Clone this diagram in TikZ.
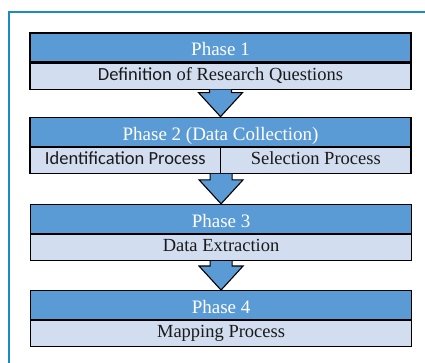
\documentclass[tikz,border=0pt]{standalone}
\usepackage{fontspec}
\setmainfont{Liberation Serif}
\newfontfamily\calibri{Carlito}
\usepackage{tikz}
\usetikzlibrary{positioning,calc}
\definecolor{phaseblue}{RGB}{91,155,213}
\definecolor{taskblue}{RGB}{210,222,239}
\definecolor{frameblue}{RGB}{28,137,200}
\definecolor{inkgray}{RGB}{26,26,26}

\begin{document}
\begin{tikzpicture}[x=1pt, y=1pt, node distance=27pt, phase/.style = {rectangle, draw=black, line width=1.1pt, fill=phaseblue, text=white, minimum width=381pt, minimum height=29pt, inner sep=0pt, text height=17pt, text depth=0pt, font=\fontsize{19}{21}\selectfont}, task/.style = {rectangle, draw=black, line width=1.1pt, fill=taskblue, text=inkgray, minimum width=381pt, minimum height=26pt, inner sep=0pt, text height=10pt, text depth=2pt, font=\fontsize{18.5}{20}\selectfont}, flow/.style = {draw=black, line width=1.1pt, fill=phaseblue, line join=miter}, frameline/.style = {draw=frameblue, line width=2.5pt}]

\useasboundingbox (0,0) rectangle (425,363);
\draw[frameline] (9,0) -- (9,351) -- (425,351);

\node[phase] (p1) at (220.5,315.5) {Phase 1};
\node[task, below=0pt of p1] (d1) {{\calibri Definition} of Research Questions};

\node[phase, below=of d1] (p2) {Phase 2 (Data Collection)};
\node[task, anchor=north west, minimum width=190.5pt] (d2a) at (p2.south west) {\calibri Identification Process};
\node[task, anchor=north east, minimum width=190.5pt] (d2b) at (p2.south east) {Selection Process};

\node[phase, below=30pt of d2a.south east, anchor=north] (p3) {Phase 3};
\node[task, below=0pt of p3] (d3) {Data Extraction};

\node[phase, below=29pt of d3] (p4) {Phase 4};
\node[task, below=0pt of p4] (d4) {Mapping Process};

\foreach \a/\b in {d1.south/p2, d2a.south east/p3, d3.south/p4}
 \draw[flow] ($(\a)+(-11,0)$) -- ($(\b.north)+(-11,24)$) -- ($(\b.north)+(-22,24)$) -- (\b.north) -- ($(\b.north)+(22,24)$) -- ($(\b.north)+(11,24)$) -- ($(\a)+(11,0)$);
\end{tikzpicture}
\end{document}
